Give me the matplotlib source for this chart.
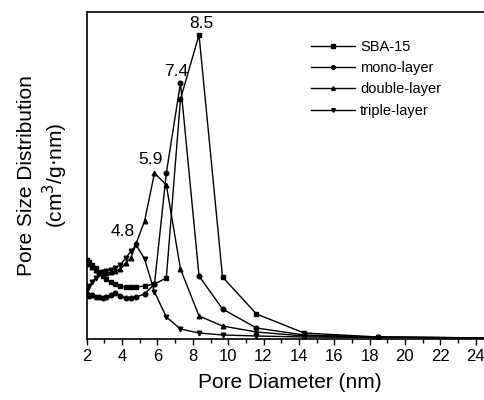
import matplotlib
matplotlib.use("Agg")
import matplotlib.pyplot as plt

plt.rcParams['font.family'] = ['Liberation Sans', 'DejaVu Sans']

# pore diameter (nm), shared by all four curves
diameter = [2.0, 2.15, 2.3, 2.5, 2.7, 2.9, 3.1, 3.35, 3.6, 3.9, 4.2, 4.5, 4.8,
            5.27, 5.83, 6.5, 7.3, 8.35, 9.68, 11.6, 14.3, 18.5, 25.0]

# pore size distribution, arbitrary units
sba15 = [79, 77, 74, 71, 67, 63, 60, 57, 55, 53, 52, 52, 52,
         53, 55, 61, 240, 304, 62, 25, 6, 2, 1]
mono = [45, 43, 44, 42, 42, 41, 42, 44, 46, 43, 41, 41, 42,
        45, 55, 166, 256, 63, 30, 11, 4, 2, 1]
double = [77, 75, 72, 69, 67, 66, 66, 67, 68, 70, 76, 81, 96,
          118, 166, 154, 70, 23, 13, 7, 3, 2, 1]
triple = [49, 53, 57, 61, 65, 67, 68, 69, 71, 74, 81, 88, 94,
          80, 47, 22, 10, 6, 4, 3, 2, 1.5, 1]

names = ['SBA-15', 'mono-layer', 'double-layer', 'triple-layer']
markers = ['s', 'o', '^', 'v']
peak_labels = ['8.5', '7.4', '5.9', '4.8']
# label offsets from the peak point, in pixels
peak_offsets = [(2, 11), (-4, 12), (-4, 13), (-14, 14)]

fig = plt.figure(figsize=(4.85, 4.0), dpi=100)
ax = fig.add_axes([0.179, 0.1525, 0.838, 0.8175])

for ys, name, m, lab, off in zip([sba15, mono, double, triple], names, markers,
                                 peak_labels, peak_offsets):
    ax.plot(diameter, ys, color='black', lw=1.0, marker=m, ms=3.3, label=name)
    i = ys.index(max(ys))
    ax.annotate(lab, xy=(diameter[i], ys[i]), xytext=off, textcoords='offset pixels',
                ha='center', va='center', fontsize=12.5)

ax.set_xlim(2, 25)
ax.set_ylim(0, 327)
ax.set_xticks(range(2, 26, 2))
ax.set_xticks(range(3, 26, 2), minor=True)
ax.set_yticks([])
ax.tick_params(axis='x', direction='out', length=4, width=1, labelsize=12, pad=3)
ax.tick_params(axis='x', which='minor', direction='out', length=3, width=1)
for s in ax.spines.values():
    s.set_linewidth(1.2)

ax.set_xlabel('Pore Diameter (nm)', fontsize=15, labelpad=7)
ax.set_ylabel('Pore Size Distribution\n(cm$^3$/g$\\cdot$nm)', fontsize=15, labelpad=12,
              linespacing=1.2)

ax.legend(loc='upper left', bbox_to_anchor=(0.52, 0.955), frameon=False, fontsize=10.5,
          handlelength=3.0, handletextpad=0.35, labelspacing=0.5, numpoints=1,
          markerscale=0.8)

fig.savefig('out.png', dpi=100)
